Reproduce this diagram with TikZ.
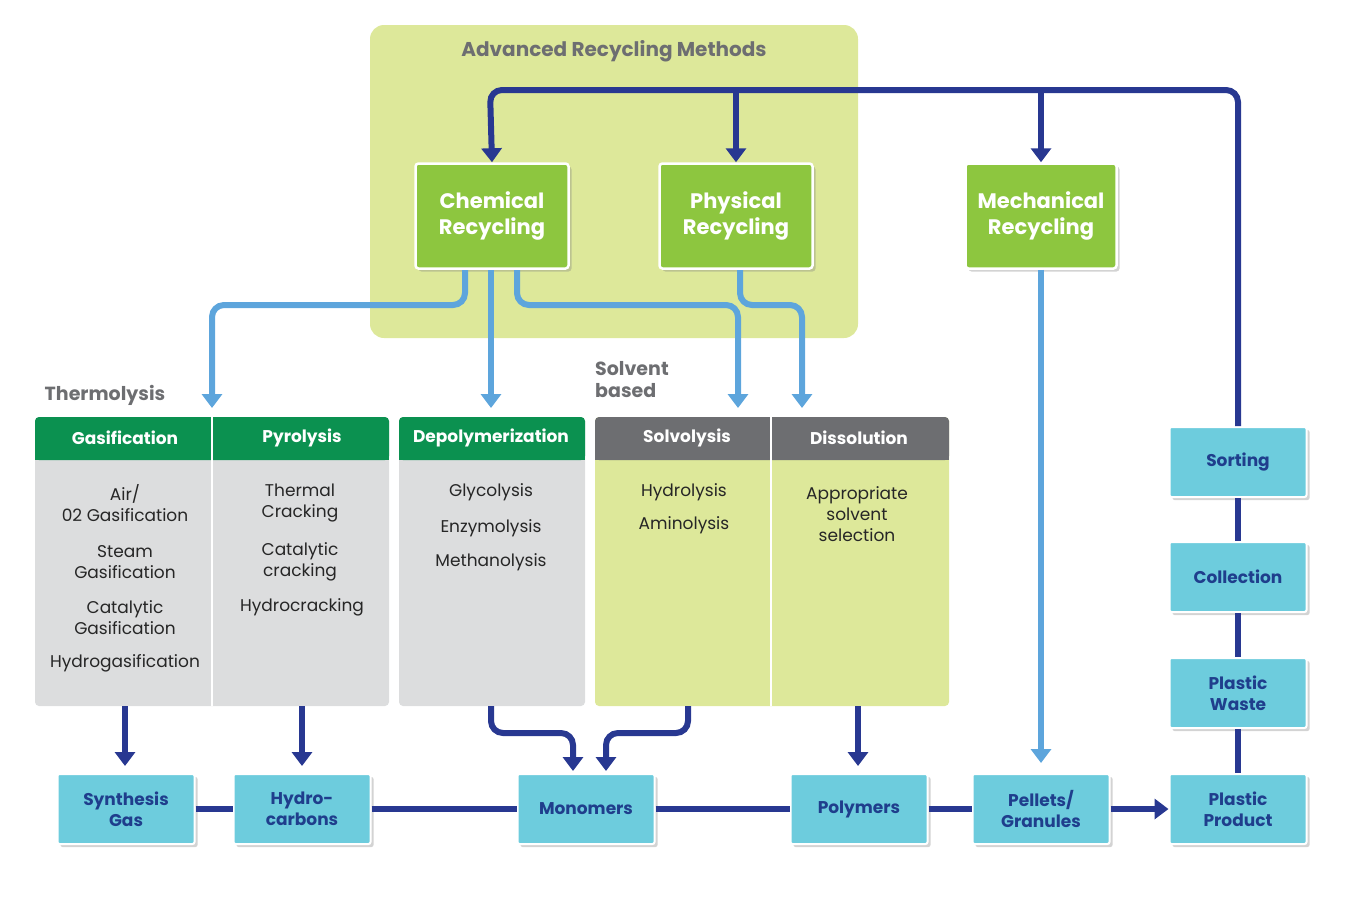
\documentclass[tikz,border=0pt]{standalone}
\usepackage{fontspec}
\setmainfont{Poppins}
\usetikzlibrary{arrows.meta,shadows}
\definecolor{navy}{HTML}{283891}
\definecolor{lblue}{HTML}{5DA5DC}
\definecolor{lgreen}{HTML}{DDE89A}
\definecolor{mgreen}{HTML}{8DC63F}
\definecolor{dgreen}{HTML}{0B9150}
\definecolor{dgray}{HTML}{6D6E71}
\definecolor{lgray}{HTML}{DCDDDE}
\definecolor{cyanb}{HTML}{6DCCDD}
\definecolor{ttext}{HTML}{1F3E8C}
\begin{document}
\begin{tikzpicture}[x=1pt,y=-1pt,
  gbox/.style={draw=white,line width=2.5pt,fill=mgreen,rounded corners=3pt,text=white,align=center,font=\fontsize{21}{26}\selectfont\bfseries,drop shadow={shadow xshift=3pt,shadow yshift=-3pt,opacity=.35}},
  cbox/.style={draw=white,line width=2pt,fill=cyanb,rounded corners=2pt,text=ttext,align=center,font=\fontsize{17}{21}\selectfont\bfseries,minimum width=137pt,minimum height=70pt,inner sep=0pt,drop shadow={shadow xshift=3pt,shadow yshift=-3pt,opacity=.35}},
  hd/.style={text=white,font=\fontsize{17}{20}\selectfont\bfseries},
  bt/.style={align=center,font=\fontsize{17}{21}\selectfont,text=black!85},
  nav/.style={draw=navy,line width=6pt,rounded corners=12pt},
  lb/.style={draw=lblue,line width=6pt,rounded corners=12pt},
  tip/.style={-{Triangle[length=14pt,width=20pt]}}]
\useasboundingbox (0,0) rectangle (1350,900);
% background
\fill[lgreen,rounded corners=14pt] (370,25) rectangle (858,338);
\node[text=dgray,font=\fontsize{20}{24}\selectfont\bfseries] (title) at (614,51) {Advanced Recycling Methods};
% columns
\fill[lgray,rounded corners=4pt] (35,417) rectangle (389,706);
\fill[lgray,rounded corners=4pt] (399,417) rectangle (585,706);
\fill[lgreen,rounded corners=4pt] (595,417) rectangle (949,706);
\fill[dgreen,rounded corners=4pt] (35,417) rectangle (389,460);
\fill[dgreen] (35,440) rectangle (389,460);
\fill[dgreen,rounded corners=4pt] (399,417) rectangle (585,460);
\fill[dgreen] (399,440) rectangle (585,460);
\fill[dgray,rounded corners=4pt] (595,417) rectangle (949,460);
\fill[dgray] (595,440) rectangle (949,460);
\draw[white,line width=2pt] (212,417) -- (212,706) (771,417) -- (771,706);
\node[hd] (gas) at (125,438) {Gasification};
\node[hd] (pyr) at (302,438) {Pyrolysis};
\node[hd] (dep) at (491,438) {Depolymerization};
\node[hd] (sol) at (687,438) {Solvolysis};
\node[hd] (dis) at (859,438) {Dissolution};
\node[text=dgray,font=\fontsize{19}{22}\selectfont\bfseries] (thermo) at (105,395) {Thermolysis};
\node[text=dgray,font=\fontsize{19}{22}\selectfont\bfseries,align=left,anchor=north west,inner sep=0pt] (solv) at (595,361) {Solvent\\based};
% body texts
\node[bt] (g1) at (125,503) {Air/\\02 Gasification};
\node[bt] (g2) at (125,562) {Steam\\Gasification};
\node[bt] (g3) at (125,618) {Catalytic\\Gasification};
\node[bt] (g4) at (125,663) {Hydrogasification};
\node[bt] (p1) at (300,503) {Thermal\\Cracking};
\node[bt] (p2) at (300,562) {Catalytic\\cracking};
\node[bt] (p3) at (302,607) {Hydrocracking};
\node[bt] (d1) at (491,492) {Glycolysis};
\node[bt] (d2) at (491,528) {Enzymolysis};
\node[bt] (d3) at (491,562) {Methanolysis};
\node[bt] (s1) at (684,492) {Hydrolysis};
\node[bt] (s2) at (684,525) {Aminolysis};
\node[bt] (s3) at (857,514) {Appropriate\\solvent\\selection};
% green boxes
\node[gbox,minimum width=153pt,minimum height=105pt] (chem) at (492,216) {Chemical\\Recycling};
\node[gbox,minimum width=153pt,minimum height=105pt] (phys) at (736,216) {Physical\\Recycling};
\node[gbox,minimum width=151pt,minimum height=105pt] (mech) at (1041,216) {Mechanical\\Recycling};
% cyan boxes
\node[cbox] (syn) at (126,809) {Synthesis\\Gas};
\node[cbox] (hyd) at (302,809) {Hydro-\\carbons};
\node[cbox] (mon) at (586,809) {Monomers};
\node[cbox] (pol) at (859,809) {Polymers};
\node[cbox] (pel) at (1041,809) {Pellets/\\Granules};
\node[cbox] (pp) at (1238,809) {Plastic\\Product};
\node[cbox] (sort) at (1238,462) {Sorting};
\node[cbox] (coll) at (1238,577) {Collection};
\node[cbox] (pw) at (1238,693) {Plastic\\Waste};
\draw[navy,line width=6pt] (syn) -- (hyd) (hyd) -- (mon) (mon) -- (pol) (pol) -- (pel);
\draw[navy,line width=6pt] (sort) -- (coll) (coll) -- (pw) (pw) -- (pp);
\draw[navy,line width=6pt,tip] (pel) -- (pp);
% top loop
\draw[nav,tip] (sort.north) -- (1238,90) -- (490,90) -- (chem.north);
\draw[navy,line width=6pt,tip] (736,88) -- (phys.north);
\draw[navy,line width=6pt,tip] (1041,88) -- (mech.north);
% light blue
\draw[lb,tip] (465,270) -- (465,305) -- (212,305) -- (212,408);
\draw[lblue,line width=6pt,tip] (491,270) -- (491,408);
\draw[lb,tip] (517,270) -- (517,305) -- (738,305) -- (738,408);
\draw[lb,tip] (740,270) -- (740,305) -- (802,305) -- (802,408);
\draw[lblue,line width=6pt,tip] (mech.south) -- (1041,763);
% navy down arrows
\draw[navy,line width=6pt,tip] (125,706) -- (125,766);
\draw[navy,line width=6pt,tip] (302,706) -- (302,766);
\draw[navy,line width=6pt,tip] (858,706) -- (858,766);
\draw[nav,tip] (491,706) -- (491,733) -- (573,733) -- (573,771);
\draw[nav,tip] (688,706) -- (688,733) -- (606,733) -- (606,771);
\end{tikzpicture}
\end{document}
